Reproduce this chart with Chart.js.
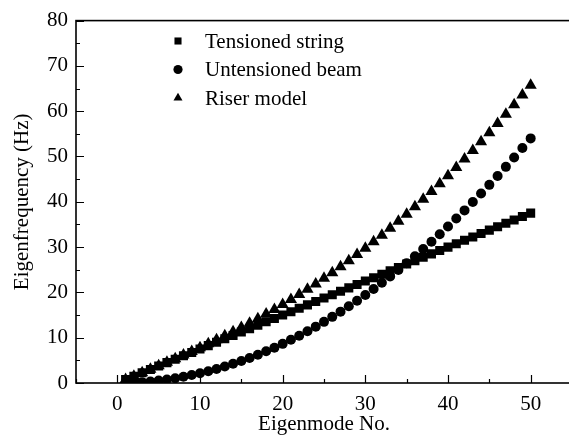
<!DOCTYPE html>
<html>
<head>
<meta charset="utf-8">
<script src="https://cdn.jsdelivr.net/npm/chart.js@4.4.1/dist/chart.umd.min.js"></script>
<style>
  html, body { margin: 0; padding: 0; background: #fff; overflow: hidden; }
  #wrap { position: relative; width: 581px; height: 439px; }
</style>
</head>
<body>
<div id="wrap"><canvas id="c" width="581" height="439"></canvas></div>
<script>
// Eigenmode numbers 1..50
const modes = [1,2,3,4,5,6,7,8,9,10,11,12,13,14,15,16,17,18,19,20,21,22,23,24,25,26,27,28,29,30,31,32,33,34,35,36,37,38,39,40,41,42,43,44,45,46,47,48,49,50];

// Eigenfrequencies (Hz)
const tensionedString = [0.75,1.5,2.25,3.0,3.75,4.5,5.25,6.0,6.75,7.5,8.25,9.0,9.75,10.5,11.25,12.0,12.75,13.5,14.25,15.0,15.75,16.5,17.25,18.0,18.75,19.5,20.25,21.0,21.75,22.5,23.25,24.0,24.75,25.5,26.25,27.0,27.75,28.5,29.25,30.0,30.75,31.5,32.25,33.0,33.75,34.5,35.25,36.0,36.75,37.5];
const untensionedBeam = [0.02,0.09,0.19,0.35,0.54,0.78,1.06,1.38,1.75,2.16,2.61,3.11,3.65,4.23,4.86,5.53,6.24,7.0,7.8,8.64,9.53,10.45,11.43,12.44,13.5,14.6,15.75,16.93,18.17,19.44,20.76,22.12,23.52,24.97,26.46,27.99,29.57,31.19,32.85,34.56,36.31,38.1,39.94,41.82,43.74,45.71,47.71,49.77,51.86,54.0];
const riserModel = [0.75,1.5,2.26,3.02,3.79,4.57,5.36,6.16,6.97,7.8,8.65,9.52,10.41,11.32,12.25,13.21,14.2,15.21,16.24,17.31,18.41,19.53,20.69,21.88,23.1,24.36,25.65,26.98,28.34,29.74,31.17,32.64,34.14,35.69,37.27,38.89,40.55,42.25,43.99,45.76,47.58,49.44,51.33,53.27,55.25,57.27,59.32,61.42,63.56,65.74];

const seriesLabels = ['Tensioned string', 'Untensioned beam', 'Riser model'];
const xTitle = 'Eigenmode No.';
const yTitle = 'Eigenfrequency (Hz)';

const FONT = '"Liberation Serif", "Times New Roman", serif';
const toPts = arr => arr.map((v, i) => ({ x: modes[i], y: v }));

// frame + inward ticks, drawn on top of the chart area
const framePlugin = {
  id: 'frame',
  afterDraw(chart) {
    const { ctx, chartArea: a, scales: { x, y } } = chart;
    ctx.save();
    ctx.strokeStyle = '#000';
    ctx.lineWidth = 1.6;
    ctx.strokeRect(a.left, a.top, a.right - a.left, a.bottom - a.top);
    ctx.lineWidth = 1.2;
    ctx.beginPath();
    x.ticks.forEach(t => {
      const px = Math.round(x.getPixelForValue(t.value)) + 0.5;
      const len = t.value % 10 === 0 ? 8 : 4;
      ctx.moveTo(px, a.bottom); ctx.lineTo(px, a.bottom - len);
    });
    y.ticks.forEach(t => {
      const py = Math.round(y.getPixelForValue(t.value)) + 0.5;
      const len = t.value % 10 === 0 ? 8 : 4;
      ctx.moveTo(a.left, py); ctx.lineTo(a.left + len, py);
    });
    ctx.stroke();
    ctx.restore();
  }
};

// legend inside the plot
const legendPlugin = {
  id: 'innerLegend',
  afterDraw(chart) {
    const { ctx } = chart;
    const legendRadius = { rect: 5, circle: 4.6, triangle: 5.2 };
    ctx.save();
    ctx.font = '21px ' + FONT;
    ctx.textBaseline = 'middle';
    chart.data.datasets.forEach((ds, i) => {
      const cy = 41 + i * 28.5;
      ctx.fillStyle = '#000';
      ctx.strokeStyle = '#000';
      Chart.helpers.drawPoint(ctx, { pointStyle: ds.pointStyle, radius: legendRadius[ds.pointStyle], borderWidth: 0 }, 178, cy);
      ctx.fillText(ds.label, 205, cy + 1);
    });
    ctx.restore();
  }
};

const common = { showLine: false, backgroundColor: '#000', borderColor: '#000', borderWidth: 0, pointHoverRadius: 5 };

new Chart(document.getElementById('c').getContext('2d'), {
  type: 'scatter',
  data: {
    datasets: [
      { ...common, label: seriesLabels[0], data: toPts(tensionedString), pointStyle: 'rect', pointRadius: 6.4 },
      { ...common, label: seriesLabels[1], data: toPts(untensionedBeam), pointStyle: 'circle', pointRadius: 5 },
      { ...common, label: seriesLabels[2], data: toPts(riserModel), pointStyle: 'triangle', pointRadius: 7 },
    ],
  },
  options: {
    responsive: false,
    animation: false,
    layout: { padding: { left: 0, top: 17, right: 3.5, bottom: 0 } },
    plugins: { legend: { display: false }, tooltip: { enabled: false } },
    scales: {
      x: {
        type: 'linear', min: -5, max: 55,
        grid: { display: false, drawTicks: false },
        border: { display: false },
        ticks: {
          stepSize: 5, padding: 9, color: '#000', maxRotation: 0, autoSkip: false,
          font: { family: FONT, size: 21 },
          callback: v => (v % 10 === 0 ? String(v) : ''),
        },
        title: { display: true, text: xTitle, color: '#000', font: { family: FONT, size: 21 }, padding: { top: 0, bottom: 2 } },
        afterFit: s => { s.height = 56; },
      },
      y: {
        type: 'linear', min: 0, max: 80,
        grid: { display: false, drawTicks: false },
        border: { display: false },
        ticks: {
          stepSize: 5, padding: 8, color: '#000', autoSkip: false,
          font: { family: FONT, size: 21 },
          callback: v => (v % 10 === 0 ? String(v) : ''),
        },
        title: { display: true, text: yTitle, color: '#000', font: { family: FONT, size: 21 }, padding: { top: 10, bottom: 0 } },
        afterFit: s => { s.width = 76; },
      },
    },
  },
  plugins: [framePlugin, legendPlugin],
});
</script>
</body>
</html>
